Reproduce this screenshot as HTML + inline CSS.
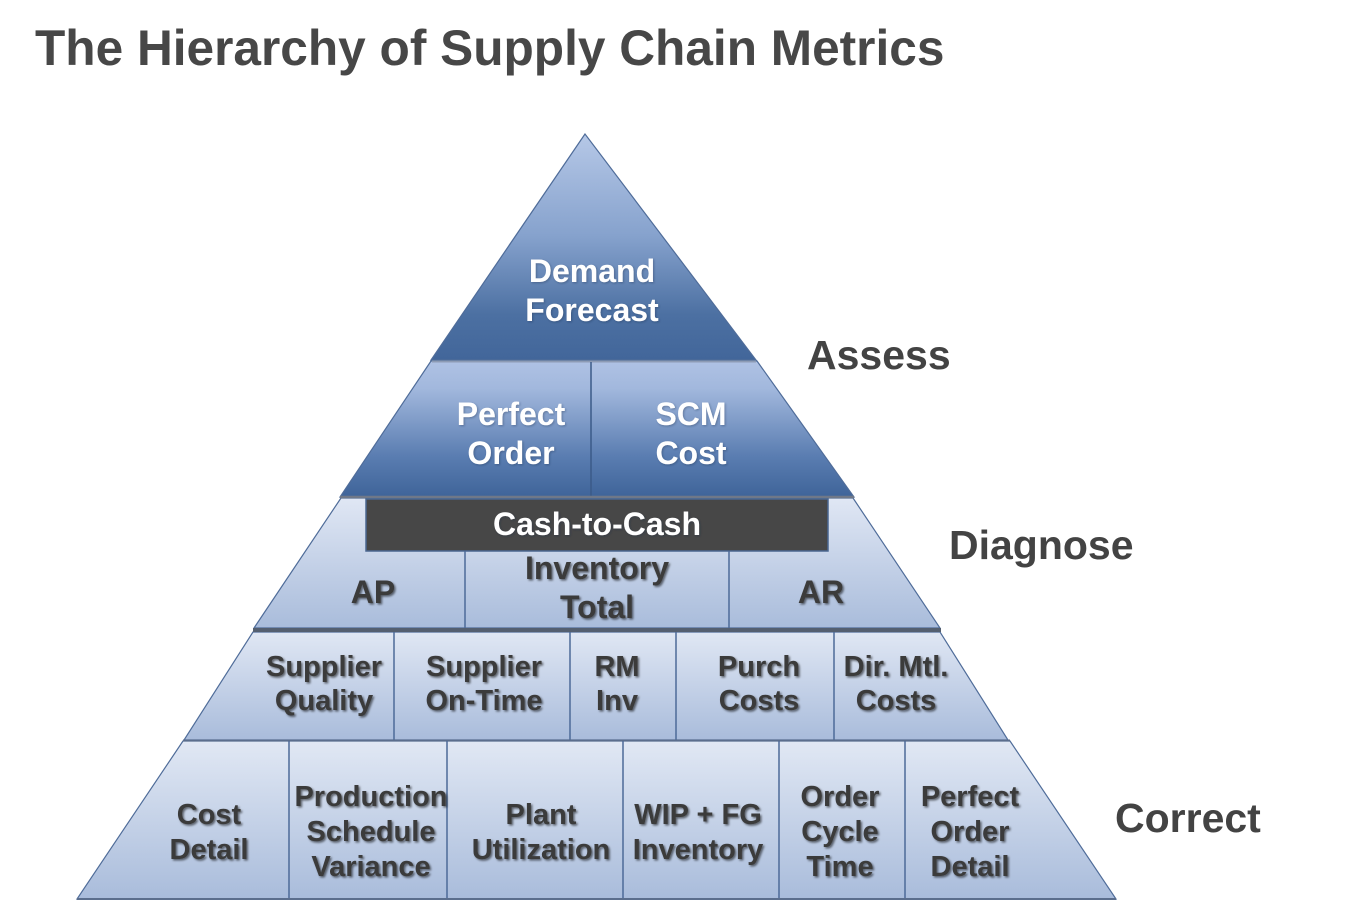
<!DOCTYPE html>
<html>
<head>
<meta charset="utf-8">
<style>
  html, body { margin: 0; padding: 0; background: #ffffff; }
  svg { display: block; }
  text { font-family: "Liberation Sans", Arial, sans-serif; font-weight: bold; }
</style>
</head>
<body>
<svg width="1354" height="905" viewBox="0 0 1354 905" xmlns="http://www.w3.org/2000/svg">
  <defs>
    <linearGradient id="g1" gradientUnits="userSpaceOnUse" x1="0" y1="134" x2="0" y2="360">
      <stop offset="0" stop-color="#b6c8e7"/>
      <stop offset="0.45" stop-color="#86a2cd"/>
      <stop offset="0.8" stop-color="#4c70a2"/>
      <stop offset="1" stop-color="#42669a"/>
    </linearGradient>
    <linearGradient id="g2" gradientUnits="userSpaceOnUse" x1="0" y1="361" x2="0" y2="497">
      <stop offset="0" stop-color="#afc2e4"/>
      <stop offset="0.2" stop-color="#a2b8dd"/>
      <stop offset="0.7" stop-color="#5a7db1"/>
      <stop offset="1" stop-color="#3f6499"/>
    </linearGradient>
    <linearGradient id="g3" gradientUnits="userSpaceOnUse" x1="0" y1="498" x2="0" y2="628">
      <stop offset="0" stop-color="#e0e7f4"/>
      <stop offset="1" stop-color="#a9bcdb"/>
    </linearGradient>
    <linearGradient id="g4" gradientUnits="userSpaceOnUse" x1="0" y1="632" x2="0" y2="740">
      <stop offset="0" stop-color="#e0e7f4"/>
      <stop offset="1" stop-color="#a9bcdb"/>
    </linearGradient>
    <linearGradient id="g5" gradientUnits="userSpaceOnUse" x1="0" y1="741" x2="0" y2="899">
      <stop offset="0" stop-color="#e1e8f4"/>
      <stop offset="1" stop-color="#a9bcdb"/>
    </linearGradient>
    <filter id="sh" x="-10%" y="-20%" width="130%" height="150%">
      <feDropShadow dx="1.5" dy="1.5" stdDeviation="1" flood-color="#000" flood-opacity="0.55"/>
    </filter>
    <filter id="shw" x="-10%" y="-20%" width="130%" height="150%">
      <feDropShadow dx="1" dy="1" stdDeviation="1" flood-color="#1a2a44" flood-opacity="0.35"/>
    </filter>
  </defs>

  <rect x="0" y="0" width="1354" height="905" fill="#ffffff"/>

  <!-- Title -->
  <text x="35" y="65" font-size="49.6" fill="#474747">The Hierarchy of Supply Chain Metrics</text>

  <!-- Tier 1 -->
  <polygon points="585,134 431,360 756,360" fill="url(#g1)" stroke="#4f6c99" stroke-width="1.2"/>
  <!-- Tier 2 -->
  <polygon points="431,361 757,361 854,497 340,497" fill="url(#g2)" stroke="#4f6c99" stroke-width="1.2"/>
  <line x1="432" y1="361.5" x2="756" y2="361.5" stroke="#8d9bb4" stroke-width="2"/>
  <line x1="591" y1="362" x2="591" y2="496" stroke="#3b5a88" stroke-width="1.5"/>

  <!-- Tier 3 -->
  <polygon points="341,498 853,498 940,628 254,628" fill="url(#g3)" stroke="#4f6c99" stroke-width="1.2"/>
  <line x1="340" y1="497" x2="854" y2="497" stroke="#6f7888" stroke-width="2.5"/>
  <rect x="366" y="499" width="462" height="52" fill="#474747" stroke="#4a6790" stroke-width="1.5"/>
  <line x1="465" y1="551" x2="465" y2="628" stroke="#4d6a98" stroke-width="1.5"/>
  <line x1="729" y1="551" x2="729" y2="628" stroke="#4d6a98" stroke-width="1.5"/>

  <!-- Tier 4 -->
  <polygon points="253,632 940,632 1008,740 184,740" fill="url(#g4)" stroke="#4f6c99" stroke-width="1.2"/>
  <line x1="253" y1="630" x2="941" y2="630" stroke="#545f70" stroke-width="4"/>
  <line x1="394" y1="632" x2="394" y2="740" stroke="#4d6a98" stroke-width="1.5"/>
  <line x1="570" y1="632" x2="570" y2="740" stroke="#4d6a98" stroke-width="1.5"/>
  <line x1="676" y1="632" x2="676" y2="740" stroke="#4d6a98" stroke-width="1.5"/>
  <line x1="834" y1="632" x2="834" y2="740" stroke="#4d6a98" stroke-width="1.5"/>

  <!-- Tier 5 -->
  <polygon points="183,741 1010,741 1116,899 77,899" fill="url(#g5)" stroke="#4f6c99" stroke-width="1.2"/>
  <line x1="183" y1="740.5" x2="1010" y2="740.5" stroke="#5b6e8d" stroke-width="2"/>
  <line x1="289" y1="741" x2="289" y2="899" stroke="#4d6a98" stroke-width="1.5"/>
  <line x1="447" y1="741" x2="447" y2="899" stroke="#4d6a98" stroke-width="1.5"/>
  <line x1="623" y1="741" x2="623" y2="899" stroke="#4d6a98" stroke-width="1.5"/>
  <line x1="779" y1="741" x2="779" y2="899" stroke="#4d6a98" stroke-width="1.5"/>
  <line x1="905" y1="741" x2="905" y2="899" stroke="#4d6a98" stroke-width="1.5"/>
  <line x1="77" y1="899" x2="1116" y2="899" stroke="#5b6e8d" stroke-width="2"/>

  <!-- White text in blue tiers -->
  <g font-size="32" fill="#ffffff" text-anchor="middle" filter="url(#shw)">
    <text x="592" y="282">Demand</text>
    <text x="592" y="321">Forecast</text>
    <text x="511" y="425">Perfect</text>
    <text x="511" y="464">Order</text>
    <text x="691" y="425">SCM</text>
    <text x="691" y="464">Cost</text>
    <text x="597" y="535">Cash-to-Cash</text>
  </g>

  <!-- Dark text in tier 3 -->
  <g font-size="32" fill="#3a3a3a" text-anchor="middle" filter="url(#sh)">
    <text x="373" y="603">AP</text>
    <text x="597" y="579">Inventory</text>
    <text x="597" y="618">Total</text>
    <text x="821" y="603">AR</text>
  </g>

  <!-- Tier 4 text -->
  <g font-size="29" fill="#3a3a3a" text-anchor="middle" filter="url(#sh)">
    <text x="324" y="676">Supplier</text>
    <text x="324" y="710">Quality</text>
    <text x="484" y="676">Supplier</text>
    <text x="484" y="710">On-Time</text>
    <text x="617" y="676">RM</text>
    <text x="617" y="710">Inv</text>
    <text x="759" y="676">Purch</text>
    <text x="759" y="710">Costs</text>
    <text x="896" y="676">Dir. Mtl.</text>
    <text x="896" y="710">Costs</text>
  </g>

  <!-- Tier 5 text -->
  <g font-size="29" fill="#3a3a3a" text-anchor="middle" filter="url(#sh)">
    <text x="209" y="824">Cost</text>
    <text x="209" y="859">Detail</text>
    <text x="371" y="806">Production</text>
    <text x="371" y="841">Schedule</text>
    <text x="371" y="876">Variance</text>
    <text x="541" y="824">Plant</text>
    <text x="541" y="859">Utilization</text>
    <text x="698" y="824">WIP + FG</text>
    <text x="698" y="859">Inventory</text>
    <text x="840" y="806">Order</text>
    <text x="840" y="841">Cycle</text>
    <text x="840" y="876">Time</text>
    <text x="970" y="806">Perfect</text>
    <text x="970" y="841">Order</text>
    <text x="970" y="876">Detail</text>
  </g>

  <!-- Side labels -->
  <g font-size="41" fill="#434343">
    <text x="807" y="369">Assess</text>
    <text x="949" y="559">Diagnose</text>
    <text x="1115" y="832">Correct</text>
  </g>
</svg>
</body>
</html>
